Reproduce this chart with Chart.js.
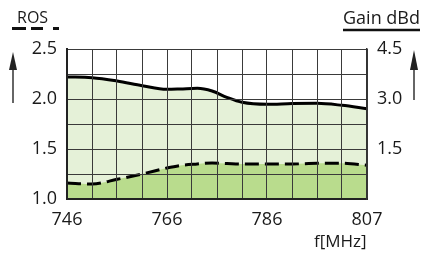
<!DOCTYPE html>
<html>
<head>
<meta charset="utf-8">
<script src="https://cdn.jsdelivr.net/npm/chart.js@4/dist/chart.umd.min.js"></script>
<style>
  html, body { margin: 0; padding: 0; background: #ffffff; }
  #wrap { position: relative; width: 424px; height: 258px; overflow: hidden; }
  #wrap canvas { position: absolute; left: 0; top: 0; }
  .lbl { position: absolute; font-family: "Open Sans", sans-serif; color: #1a1a1a; line-height: 1; white-space: nowrap; }
</style>
</head>
<body>
<div id="wrap">
  <canvas id="c" width="424" height="258"></canvas>
  <div class="lbl" id="ros" style="left:17px; top:9px; font-size:16px;">ROS</div>
  <div class="lbl" id="gain" style="left:343px; top:8px; font-size:18px;">Gain dBd</div>
  <div class="lbl" id="freq" style="left:314px; top:232px; font-size:17px;">f[MHz]</div>
</div>
<script>
// ---- data ----
const freqMHz = [746, 751.1, 756.2, 761.3, 766.3, 769, 772.5, 775.5, 778.5, 781.6, 786.7, 791.8, 796.8, 801.9, 807];
const gainDbd = [3.66, 3.64, 3.54, 3.40, 3.29, 3.30, 3.32, 3.24, 3.05, 2.90, 2.84, 2.865, 2.87, 2.81, 2.71];
const rosValues = [1.16, 1.15, 1.197, 1.25, 1.31, 1.335, 1.35, 1.36, 1.355, 1.35, 1.35, 1.35, 1.357, 1.357, 1.337];
const xTickLabels = ['746', '766', '786', '807'];
const rosTickLabels = ['1.0', '1.5', '2.0', '2.5'];
const gainTickLabels = ['1.5', '3.0', '4.5'];

const GRID = '#3a3a3a';
const TXT = '#1a1a1a';
const FONT = { family: '"Open Sans", sans-serif', size: 18 };

const gainPts = freqMHz.map((f, i) => ({ x: f, y: gainDbd[i] }));
const rosPts = freqMHz.map((f, i) => ({ x: f, y: rosValues[i] }));

const decor = {
  id: 'decor',
  afterDraw(chart) {
    const ctx = chart.ctx;
    ctx.save();
    // ROS dashed underline
    ctx.strokeStyle = '#111';
    ctx.lineWidth = 3;
    ctx.beginPath();
    [[12, 26], [31, 43], [53, 59]].forEach(s => { ctx.moveTo(s[0], 28.5); ctx.lineTo(s[1], 28.5); });
    ctx.stroke();
    // Gain underline
    ctx.lineWidth = 2.5;
    ctx.beginPath();
    ctx.moveTo(343, 30); ctx.lineTo(420, 30);
    ctx.stroke();
    // arrows
    function arrow(x, top, baseY, bottom) {
      ctx.strokeStyle = '#333';
      ctx.fillStyle = '#222';
      ctx.lineWidth = 1.5;
      ctx.beginPath();
      ctx.moveTo(x, baseY - 2); ctx.lineTo(x, bottom);
      ctx.stroke();
      ctx.beginPath();
      ctx.moveTo(x, top); ctx.lineTo(x - 4, baseY); ctx.lineTo(x + 4, baseY); ctx.closePath();
      ctx.fill();
    }
    arrow(13, 52, 70, 103);
    arrow(414, 50, 70, 100);
    ctx.restore();
  }
};

new Chart(document.getElementById('c'), {
  type: 'line',
  data: {
    datasets: [
      {
        label: 'ROS',
        data: rosPts,
        yAxisID: 'y',
        borderColor: '#000',
        borderWidth: 3,
        borderDash: [14, 6],
        pointRadius: 0,
        fill: 'origin',
        backgroundColor: '#b9dc8d',
        cubicInterpolationMode: 'monotone'
      },
      {
        label: 'Gain dBd',
        data: gainPts,
        yAxisID: 'y1',
        borderColor: '#000',
        borderWidth: 3,
        pointRadius: 0,
        fill: 'origin',
        backgroundColor: '#e5f1d8',
        cubicInterpolationMode: 'monotone'
      }
    ]
  },
  options: {
    responsive: false,
    animation: false,
    layout: { padding: { top: 49, left: 0, right: 0, bottom: 0 } },
    plugins: { legend: { display: false }, tooltip: { enabled: false } },
    scales: {
      x: {
        type: 'linear',
        min: 746, max: 807,
        afterBuildTicks(s) {
          const t = [];
          for (let i = 0; i <= 12; i++) t.push({ value: 746 + i * (807 - 746) / 12 });
          s.ticks = t;
        },
        afterFit(s) { s.height = 59; },
        grid: { color: GRID, lineWidth: 1, drawTicks: false, z: 1 },
        border: { color: '#222', width: 2, z: 2 },
        ticks: {
          autoSkip: false, maxRotation: 0, padding: 10, color: TXT, font: FONT,
          callback(v, i) { return i % 4 === 0 ? xTickLabels[i / 4] : ''; }
        }
      },
      y: {
        position: 'left',
        min: 1, max: 2.5,
        afterBuildTicks(s) {
          const t = [];
          for (let i = 0; i <= 6; i++) t.push({ value: 1 + i * 0.25 });
          s.ticks = t;
        },
        afterFit(s) { s.width = 67; },
        grid: { color: GRID, lineWidth: 1, drawTicks: false, z: 1 },
        border: { color: '#222', width: 2, z: 2 },
        ticks: {
          autoSkip: false, padding: 10, color: TXT, font: FONT,
          callback(v, i) { return i % 2 === 0 ? rosTickLabels[i / 2] : ''; }
        }
      },
      y1: {
        position: 'right',
        min: 0, max: 4.5,
        afterBuildTicks(s) {
          s.ticks = [{ value: 0 }, { value: 1.5 }, { value: 3 }, { value: 4.5 }];
        },
        afterFit(s) { s.width = 57; },
        grid: { display: false, drawTicks: false },
        border: { color: '#333', width: 1.5, z: 2 },
        ticks: {
          autoSkip: false, padding: 10, color: TXT, font: FONT,
          callback(v, i) { return i === 0 ? '' : gainTickLabels[i - 1]; }
        }
      }
    }
  },
  plugins: [decor]
});
</script>
</body>
</html>
